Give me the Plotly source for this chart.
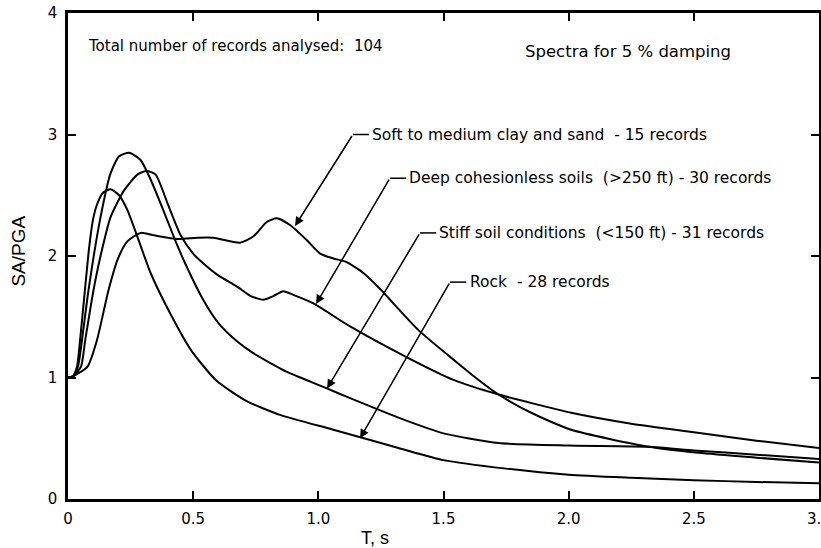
import plotly.graph_objects as go

# ---- data ----
rock_T = [0, 0.02, 0.036, 0.045, 0.069, 0.085, 0.1, 0.117, 0.14, 0.17, 0.204, 0.237, 0.277, 0.33, 0.41,
          0.49, 0.59, 0.71, 0.85, 1.06, 1.32, 1.5, 1.75, 2.0, 2.25, 2.5, 2.75, 3.0]
rock_SA = [1.0, 1.01, 1.09, 1.24, 1.75, 2.08, 2.30, 2.43, 2.52, 2.55, 2.50, 2.38, 2.16, 1.86, 1.52,
           1.23, 0.98, 0.81, 0.69, 0.57, 0.42, 0.32, 0.25, 0.20, 0.175, 0.155, 0.14, 0.13]

stiff_T = [0, 0.02, 0.04, 0.056, 0.082, 0.13, 0.17, 0.204, 0.244, 0.29, 0.33, 0.384, 0.43, 0.47, 0.54,
           0.60, 0.674, 0.74, 0.807, 0.87, 0.94, 1.034, 1.127, 1.32, 1.5, 1.72, 2.0, 2.32, 2.5, 2.75, 3.0]
stiff_SA = [1.0, 1.01, 1.09, 1.31, 1.72, 2.32, 2.68, 2.82, 2.85, 2.79, 2.63, 2.36, 2.12, 1.93, 1.64,
            1.45, 1.30, 1.20, 1.12, 1.05, 0.99, 0.91, 0.83, 0.67, 0.54, 0.46, 0.44, 0.43, 0.40, 0.365, 0.33]

deep_T = [0, 0.02, 0.052, 0.069, 0.102, 0.13, 0.17, 0.224, 0.277, 0.314, 0.35, 0.40, 0.45, 0.50, 0.54,
          0.60, 0.674, 0.73, 0.78, 0.82, 0.86, 0.90, 0.98, 1.127, 1.35, 1.54, 1.72, 2.01, 2.25, 2.5,
          2.75, 3.0]
deep_SA = [1.0, 1.01, 1.09, 1.31, 1.72, 2.0, 2.32, 2.54, 2.67, 2.70, 2.67, 2.42, 2.17, 2.02, 1.94,
           1.84, 1.75, 1.67, 1.64, 1.67, 1.71, 1.68, 1.61, 1.42, 1.17, 0.98, 0.86, 0.71, 0.62, 0.55,
           0.48, 0.42]

soft_T = [0, 0.02, 0.078, 0.116, 0.162, 0.2, 0.237, 0.29, 0.344, 0.437, 0.517, 0.58, 0.687, 0.74, 0.794,
          0.834, 0.887, 0.954, 1.007, 1.06, 1.113, 1.18, 1.246, 1.40, 1.55, 1.64, 1.72, 1.85, 2.01,
          2.32, 2.52, 2.75, 3.0]
soft_SA = [1.0, 1.01, 1.09, 1.31, 1.72, 1.98, 2.12, 2.19, 2.17, 2.14, 2.15, 2.15, 2.11, 2.16, 2.28,
           2.31, 2.255, 2.13, 2.02, 1.98, 1.95, 1.86, 1.73, 1.39, 1.13, 0.98, 0.86, 0.71, 0.57,
           0.43, 0.38, 0.34, 0.30]

x_ticks = [0, 0.5, 1.0, 1.5, 2.0, 2.5, 3.0]
x_tick_labels = ["0", "0.5", "1.0", "1.5", "2.0", "2.5", "3.0"]
y_ticks = [0, 1, 2, 3, 4]
y_tick_labels = ["0", "1", "2", "3", "4"]

# label text, arrow head (T, SA), leader tail (T, SA)
labels = [
    ("Soft to medium clay and sand  - 15 records", 0.907, 2.247, 1.138, 3.0),
    ("Deep cohesionless soils  (>250 ft) - 30 records", 0.991, 1.605, 1.286, 2.64),
    ("Stiff soil conditions  (<150 ft) - 31 records", 1.035, 0.91, 1.406, 2.19),
    ("Rock  - 28 records", 1.167, 0.50, 1.526, 1.785),
]

FONT = "DejaVu Sans"
AXFONT = "Liberation Sans"

fig = go.Figure()
for T, SA in [(rock_T, rock_SA), (stiff_T, stiff_SA), (deep_T, deep_SA), (soft_T, soft_SA)]:
    fig.add_trace(go.Scatter(x=T, y=SA, mode="lines",
                             line=dict(color="black", width=2, shape="spline", smoothing=0.6),
                             showlegend=False, hoverinfo="skip"))

annotations = []
shapes = []
for text, hx, hy, tx, ty in labels:
    annotations.append(dict(x=hx, y=hy, ax=tx, ay=ty, xref="x", yref="y", axref="x", ayref="y",
                            text="", showarrow=True, arrowhead=2, arrowsize=1.2, arrowwidth=1.5,
                            arrowcolor="black"))
    shapes.append(dict(type="line", xref="x", yref="y", x0=tx, y0=ty, x1=tx + 0.065, y1=ty,
                       line=dict(color="black", width=1.5)))
    annotations.append(dict(x=tx + 0.07, y=ty, xref="x", yref="y", text=text, showarrow=False,
                            xanchor="left", yanchor="middle",
                            font=dict(family=FONT, size=15.5, color="black")))

annotations.append(dict(x=0.072, y=3.73, xref="x", yref="y", text="Total number of records analysed:  104",
                        showarrow=False, xanchor="left", yanchor="middle",
                        font=dict(family=FONT, size=15, color="black")))
annotations.append(dict(x=1.818, y=3.68, xref="x", yref="y", text="Spectra for 5 % damping",
                        showarrow=False, xanchor="left", yanchor="middle",
                        font=dict(family=FONT, size=16.5, color="black")))
annotations.append(dict(x=0.409, y=-0.08, xref="paper", yref="paper", text="T, s",
                        showarrow=False, xanchor="center", yanchor="middle",
                        font=dict(family=AXFONT, size=18, color="black")))
annotations.append(dict(x=-0.066, y=0.51, xref="paper", yref="paper", text="SA/PGA", textangle=-90,
                        showarrow=False, xanchor="center", yanchor="middle",
                        font=dict(family=AXFONT, size=19, color="black")))

fig.update_layout(
    width=821, height=548,
    margin=dict(l=68, r=2, t=13, b=49),
    template="none",
    plot_bgcolor="white", paper_bgcolor="white",
    annotations=annotations, shapes=shapes,
    xaxis=dict(range=[0, 3.0], tickvals=x_ticks, ticktext=x_tick_labels, ticks="inside", ticklen=8,
               tickwidth=1.5, tickcolor="black", showline=True, linecolor="black", linewidth=2.5,
               mirror="allticks", showgrid=False, zeroline=False, automargin=False,
               ticklabelstandoff=4, ticklabeloverflow="allow",
               tickfont=dict(family=FONT, size=15, color="black")),
    yaxis=dict(range=[0, 4], tickvals=y_ticks, ticktext=y_tick_labels, ticks="inside", ticklen=8,
               tickwidth=1.5, tickcolor="black", showline=True, linecolor="black", linewidth=2.5,
               mirror="allticks", showgrid=False, zeroline=False, automargin=False,
               ticklabelstandoff=5, ticklabeloverflow="allow",
               tickfont=dict(family=FONT, size=15, color="black")),
)

fig.write_html("out.html")
